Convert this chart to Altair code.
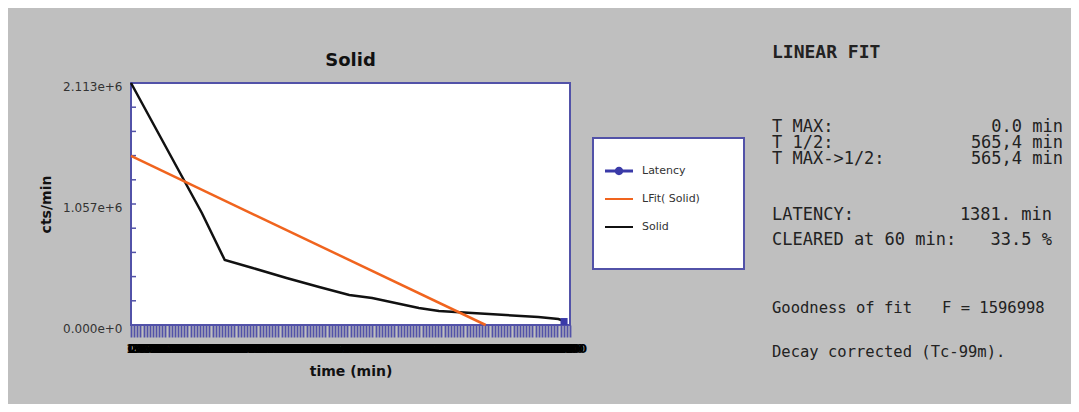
import altair as alt
import pandas as pd

# ---------------- data ----------------
solid_t = [0, 226, 299, 388, 496, 600, 696, 769, 918, 982, 1195, 1299, 1363, 1381]
solid_v = [2113000, 978000, 567000, 498000, 410000, 332000, 262000, 236000,
           148000, 122000, 87000, 70000, 52000, 35000]
fit_t = [0, 1131]
fit_v = [1476000, 0]
latency_t = [1381]
latency_v = [30000]

series_names = ["Latency", "LFit( Solid)", "Solid"]
series_colors = ["#3a3aa8", "#f0641e", "#111111"]

x_max = 1400
y_max = 2113000
y_label_values = [0, 1056500, 2113000]
y_tick_values = [0, 211300, 422600, 633900, 845200, 1056500, 1267800,
                 1479100, 1690400, 1901700, 2113000]
x_tick_values = list(range(0, 1401, 10))

chart_title = "Solid"
x_title = "time (min)"
y_title = "cts/min"

fit_heading = "LINEAR FIT"
block1_labels = ["T MAX:", "T 1/2:", "T MAX->1/2:"]
block1_values = ["0.0 min", "565,4 min", "565,4 min"]
block2_labels = ["LATENCY:", "CLEARED at 60 min:"]
block2_values = ["1381. min", "33.5 %"]
goodness_label = "Goodness of fit"
goodness_value = "F = 1596998"
decay_text = "Decay corrected (Tc-99m)."

# ---------------- styling ----------------
BLUE = "#5252a8"
GRAY = "#bfbfbf"
W, H = 439, 242

lines_df = pd.DataFrame({
    "t": solid_t + fit_t,
    "v": solid_v + fit_v,
    "series": ["Solid"] * len(solid_t) + ["LFit( Solid)"] * len(fit_t),
})
lat_df = pd.DataFrame({"t": latency_t, "v": latency_v, "series": ["Latency"]})
ytick_df = pd.DataFrame({"v": y_tick_values})
one = pd.DataFrame({"k": [0]})

xscale = alt.Scale(domain=[0, x_max], nice=False, zero=False)
yscale = alt.Scale(domain=[0, y_max], nice=False)

x_axis = alt.Axis(
    values=x_tick_values, format="d", title=x_title,
    tickColor=BLUE, tickSize=12, tickWidth=1.8, domain=False, grid=False,
    labelOverlap=False, labelFlush=False, labelBound=False,
    labelFont="DejaVu Sans", labelFontSize=12, labelFontWeight="bold",
    labelColor="#000000", labelPadding=6, labelBaseline="top",
    titleFont="DejaVu Sans", titleFontSize=14, titleFontWeight="bold",
    titleColor="#111111", titleBaseline="alphabetic", titleY=50,
)
y_axis = alt.Axis(
    values=y_label_values, format=".3e", title=y_title,
    ticks=False, tickSize=0, domain=False, grid=False,
    labelFont="DejaVu Sans", labelFontSize=12, labelColor="#333333",
    labelPadding=9, labelOffset=3,
    titleFont="DejaVu Sans", titleFontSize=14, titleFontWeight="bold",
    titleColor="#111111", titleBaseline="alphabetic", titleX=-81, titleY=121,
)

X = alt.X("t:Q", scale=xscale, axis=x_axis)
Y = alt.Y("v:Q", scale=yscale, axis=y_axis)

color_scale = alt.Scale(domain=series_names, range=series_colors)
color_plain = alt.Color("series:N", scale=color_scale, legend=None)

line_dot = "M-1,-0.1H1V0.1H-1Z M-0.3,0A0.3,0.3 0 1,1 0.3,0A0.3,0.3 0 1,1 -0.3,0Z"
line_only = "M-1,-0.07H1V0.07H-1Z"

legend = alt.Legend(
    orient="none", legendX=474, legendY=74, title=None, padding=0,
    symbolSize=784, symbolStrokeWidth=0, symbolOffset=0, symbolOpacity=1,
    labelFont="DejaVu Sans", labelFontSize=11, labelColor="#333333",
    labelOffset=9, rowPadding=9,
)

yticks = alt.Chart(ytick_df).mark_rule(color=BLUE, strokeWidth=1.5).encode(
    y=Y, x=alt.value(0), x2=alt.value(5)
)

lines = alt.Chart(lines_df).mark_line(strokeWidth=2.5).encode(x=X, y=Y, color=color_plain)

lat_mark = alt.Chart(lat_df).mark_square(size=50, opacity=1, filled=True).encode(
    x=X, y=Y, color=color_plain
)

box = alt.Chart(one).mark_rect(fill="white", stroke=BLUE, strokeWidth=2).encode(
    x=alt.value(462), x2=alt.value(613), y=alt.value(55), y2=alt.value(186)
)

legend_layer = alt.Chart(lat_df).mark_point(filled=True, size=1, opacity=1).encode(
    x=X, y=Y,
    color=alt.Color("series:N", scale=alt.Scale(domain=series_names, range=series_colors), legend=legend),
    shape=alt.Shape("series:N", scale=alt.Scale(domain=series_names, range=[line_dot, line_only, line_only]), legend=legend),
)

MONO = "DejaVu Sans Mono"
TXT = "#222222"

def txt(text, x, y, size, align="left", weight="normal", lh=16, font=MONO):
    return alt.Chart(one).mark_text(
        text=text, font=font, fontSize=size, fontWeight=weight, color=TXT,
        align=align, baseline="alphabetic", lineHeight=lh,
    ).encode(x=alt.value(x), y=alt.value(y))

title_mark = alt.Chart(one).mark_text(
    text=chart_title, font="DejaVu Sans", fontSize=18, fontWeight="bold",
    color="#111111", align="center", baseline="alphabetic",
).encode(x=alt.value(W / 2), y=alt.value(-17))

texts = [
    txt(fit_heading, 641, -25, 18, weight="bold"),
    txt(block1_labels, 641, 49, 17, lh=16),
    txt(block1_values, 932, 49, 17, align="right", lh=16),
    txt(block2_labels, 641, 137, 17, lh=25),
    txt(block2_values, 921, 137, 17, align="right", lh=25),
    txt(goodness_label, 641, 230, 15.5),
    txt(goodness_value, 811, 230, 15.5),
    txt(decay_text, 641, 274, 15.5),
]

chart = alt.layer(yticks, lines, lat_mark, box, legend_layer, title_mark, *texts).resolve_scale(
    color="independent", shape="independent"
).properties(
    width=W, height=H,
    autosize=alt.AutoSizeParams(type="none"),
    padding={"left": 123, "top": 75, "right": 501, "bottom": 79},
).configure(background=GRAY).configure_view(
    fill="white", stroke=BLUE, strokeWidth=2
)

chart.save("out.html", embed_options={"renderer": "svg", "actions": False})
